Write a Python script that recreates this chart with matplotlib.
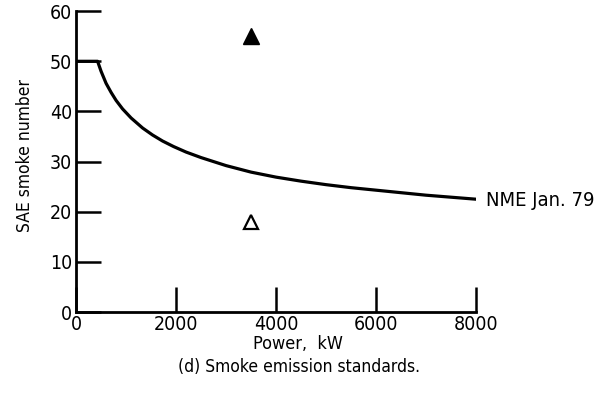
import matplotlib.pyplot as plt

# NME Jan. 79 smoke standard
power_kw = [0, 430, 500, 600, 700, 800, 930, 1100, 1330, 1530, 1730, 1950, 2200, 2500,
            3000, 3500, 4000, 4500, 5000, 5500, 6000, 6500, 7000, 7500, 8000]
smoke_no = [50, 50, 48.0, 45.6, 43.8, 42.2, 40.5, 38.7, 36.7, 35.3, 34.1, 33.0, 31.9, 30.8,
            29.2, 27.9, 26.9, 26.1, 25.4, 24.8, 24.3, 23.8, 23.3, 22.9, 22.5]

# engine points
pt_power = [3500]
pt_filled = [55]
pt_open = [18]

xticks = [0, 2000, 4000, 6000, 8000]
yticks = [0, 10, 20, 30, 40, 50, 60]

plt.rcParams['font.family'] = ['DejaVu Sans']
plt.rcParams['font.stretch'] = 'condensed'

fig = plt.figure(figsize=(6.04, 3.98), dpi=100)
ax = fig.add_axes([0.126, 0.216, 0.662, 0.756])

ax.plot(power_kw, smoke_no, color='black', lw=2.3, solid_joinstyle='round')
ax.plot(pt_power, pt_filled, marker='^', ms=11, color='black', ls='none')
ax.plot(pt_power, pt_open, marker='^', ms=10, mfc='white', mec='black', mew=1.6, ls='none')

ax.text(8200, 22.3, 'NME Jan. 79', fontsize=14.5, va='center', ha='left', clip_on=False)

ax.set_xlim(0, 8000)
ax.set_ylim(0, 60)
ax.set_xticks(xticks)
ax.set_yticks(yticks)
ax.tick_params(direction='in', length=18, width=1.8, labelsize=14, pad=3)
ax.tick_params(axis='x', pad=2)

for s in ['top', 'right']:
    ax.spines[s].set_visible(False)
for s in ['left', 'bottom']:
    ax.spines[s].set_linewidth(2)

ax.set_ylabel('SAE smoke number', fontsize=12.5, va='center')
ax.yaxis.set_label_coords(-0.128, 0.52)
ax.set_xlabel('Power,  kW', fontsize=13, va='center')
ax.xaxis.set_label_coords(0.555, -0.106)
fig.text(0.495, 0.078, '(d) Smoke emission standards.', fontsize=12.5, ha='center', va='center')

fig.savefig('out.png', dpi=100)
